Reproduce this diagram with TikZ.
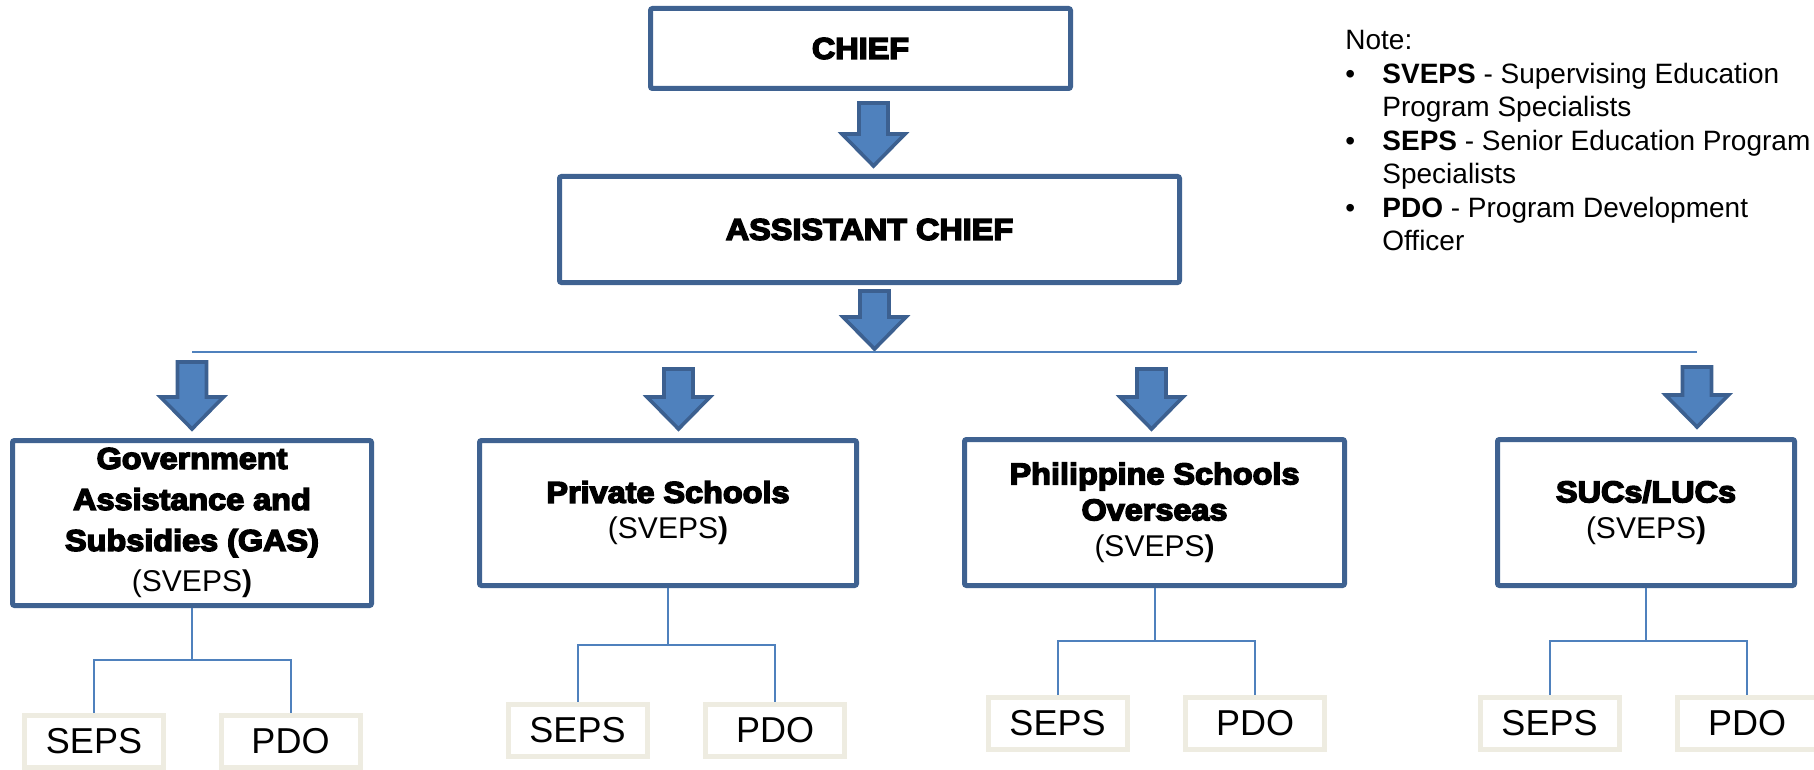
\documentclass[tikz,border=0pt]{standalone}
\usepackage{fontspec}
\setmainfont{Liberation Sans}
\newfontfamily\heavyfont{Liberation Sans}[BoldFeatures={FakeBold=5,FakeStretch=1.08}]
\definecolor{boxblue}{HTML}{3F6291}
\definecolor{arrowfill}{HTML}{4F81BD}
\definecolor{arrowline}{HTML}{3C6090}
\definecolor{linkblue}{HTML}{4F81BD}
\definecolor{staffline}{HTML}{EEECE1}
\tikzset{
  unitbox/.style={draw=boxblue, line width=2.5pt, fill=white, rounded corners=1pt, inner sep=0pt, align=center, font=\fontsize{15}{18}\selectfont},
  staffbox/.style={draw=staffline, line width=2.5pt, fill=white, inner sep=0pt, minimum width=69.5pt, minimum height=26pt, font=\fontsize{18}{21}\selectfont},
  link/.style={draw=linkblue, line width=1pt},
  pics/downarrow/.style={code={
    \filldraw[fill=arrowfill, draw=arrowline, line width=1.8pt]
      (-14.5,0) -- (14.5,0) -- (14.5,#1) -- (31.5,#1) -- (0,#1+32) -- (-31.5,#1) -- (-14.5,#1) -- cycle;
  }}
}
\newcommand{\unittitle}[1]{{\heavyfont\bfseries #1}}
\newcommand{\svepstag}{(SVEPS\textbf{)}}
\begin{document}
\begin{tikzpicture}[x=0.5pt, y=-0.5pt]
  \useasboundingbox (0,0) rectangle (1814,770);

  \node[unitbox, minimum width=210pt, minimum height=40pt] (chief) at (860.5,48.5) {\unittitle{CHIEF}};
  \node[unitbox, minimum width=310pt, minimum height=53pt] (assist) at (869.5,229.5) {\unittitle{ASSISTANT CHIEF}};

  \foreach \ax/\ay/\al in {873.5/103/31, 874.5/291/26, 192/362/35, 678.5/369/28, 1151.5/369/28, 1697/367/28}{
    \pic at (\ax,\ay) {downarrow=\al};
  }

  \coordinate (busl) at (192,352);
  \coordinate (busr) at (1697,352);
  \draw[link] (busl) -- (busr);

  \node[unitbox, minimum width=179.5pt, minimum height=82.5pt, font=\fontsize{15}{20.5}\selectfont] (gas) at (192,523)
    {\unittitle{Government}\\\unittitle{Assistance and}\\\unittitle{Subsidies (GAS)}\\\svepstag};
  \node[unitbox, minimum width=188.5pt, minimum height=72.5pt] (priv) at (668,513)
    {\unittitle{Private Schools}\\\svepstag};
  \node[unitbox, minimum width=190pt, minimum height=73pt] (phil) at (1154.5,512.5)
    {\unittitle{Philippine Schools}\\\unittitle{Overseas}\\\svepstag};
  \node[unitbox, minimum width=148.5pt, minimum height=73pt] (sucs) at (1646,512.5)
    {\unittitle{SUCs/LUCs}\\\svepstag};

  \node[staffbox] (gas-seps) at (94,741.5) {SEPS};
  \node[staffbox] (gas-pdo) at (290.5,741.5) {PDO};
  \node[staffbox] (priv-seps) at (577.5,730.5) {SEPS};
  \node[staffbox] (priv-pdo) at (775,730.5) {PDO};
  \node[staffbox] (phil-seps) at (1057.5,723.5) {SEPS};
  \node[staffbox] (phil-pdo) at (1255,723.5) {PDO};
  \node[staffbox] (sucs-seps) at (1549.5,723) {SEPS};
  \node[staffbox] (sucs-pdo) at (1747,723) {PDO};

  \foreach \u/\d in {gas/52, priv/57, phil/53, sucs/53}{
    \draw[link] (\u.south) -- ++(0,\d) -| (\u-seps.north);
    \draw[link] (\u.south) ++(0,\d) -| (\u-pdo.north);
  }

  \node[anchor=north west, inner sep=0pt, align=left, font=\fontsize{14}{16.75}\selectfont] (note) at (1345,30)
    {Note:\\
     \makebox[18.5pt][l]{\textbullet}\textbf{SVEPS} - Supervising Education\\
     \hspace*{18.5pt}Program Specialists\\
     \makebox[18.5pt][l]{\textbullet}\textbf{SEPS} - Senior Education Program\\
     \hspace*{18.5pt}Specialists\\
     \makebox[18.5pt][l]{\textbullet}\textbf{PDO} - Program Development\\
     \hspace*{18.5pt}Officer};
\end{tikzpicture}
\end{document}
